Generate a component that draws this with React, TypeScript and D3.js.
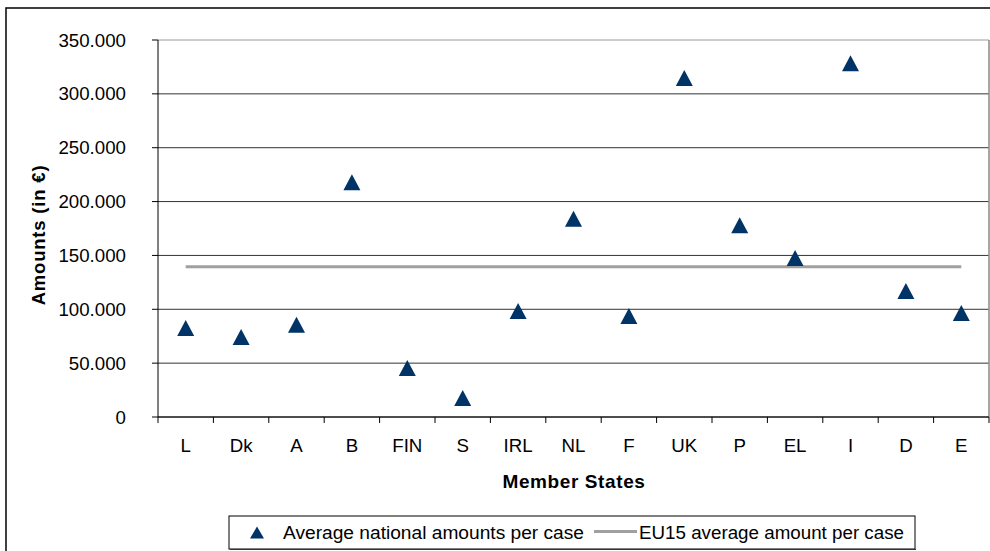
import React from "react";
import * as d3 from "d3";

const categories = ["L", "Dk", "A", "B", "FIN", "S", "IRL", "NL", "F", "UK", "P", "EL", "I", "D", "E"];
const nationalAmounts = [82600, 74300, 85700, 218000, 45500, 17600, 98400, 184000, 93800, 314800, 178000, 147600, 328400, 117000, 96600];
const eu15Average = 139500;
const yTicks = [0, 50000, 100000, 150000, 200000, 250000, 300000, 350000];
const seriesNames = ["Average national amounts per case", "EU15 average amount per case"];
const xTitle = "Member States";
const yTitle = "Amounts (in €)";

const W = 990;
const H = 551;
const plot = { left: 158, right: 989, top: 40, bottom: 417 };
const FONT = "'Liberation Sans', Arial, Helvetica, sans-serif";
const NAVY = "#003366";

const locale = d3.formatLocale({ decimal: ",", thousands: ".", grouping: [3], currency: ["", "€"] });
const fmt = locale.format(",");

function tri(cx: number, cy: number, w: number, h: number) {
  return `M${cx - w / 2},${cy + h / 2}L${cx},${cy - h / 2}L${cx + w / 2},${cy + h / 2}Z`;
}

export default function App() {
  const x = d3.scaleBand<string>().domain(categories).range([plot.left, plot.right]).padding(0);
  const y = d3.scaleLinear().domain([0, 350000]).range([plot.bottom, plot.top]);
  const cx = (c: string) => (x(c) as number) + x.bandwidth() / 2;
  const avgLine = d3.line<string>().x((c) => cx(c)).y(() => y(eu15Average));
  const boundaries = categories.map((c) => x(c) as number).concat([plot.right]);

  return (
    <svg width={W} height={H} style={{ position: "absolute", left: 0, top: 0, background: "#fff" }} fontFamily={FONT}>
      <rect x={0} y={0} width={W} height={H} fill="#fff" />
      {/* outer frame */}
      <rect x={6} y={8} width={1100} height={700} fill="none" stroke="#111" strokeWidth={1.6} />
      {/* gridlines */}
      {yTicks.map((t) => (
        <line key={"g" + t} x1={plot.left} x2={plot.right} y1={y(t)} y2={y(t)} stroke={t === 350000 ? "#9a9a9a" : "#333"} strokeWidth={1} />
      ))}
      {/* plot right border */}
      <line x1={plot.right} x2={plot.right} y1={plot.top} y2={plot.bottom} stroke="#888" strokeWidth={1.5} />
      {/* axes */}
      <line x1={plot.left} x2={plot.left} y1={plot.top} y2={plot.bottom} stroke="#000" strokeWidth={1} />
      <line x1={plot.left} x2={plot.right} y1={plot.bottom} y2={plot.bottom} stroke="#000" strokeWidth={1} />
      {yTicks.map((t) => (
        <g key={"yt" + t}>
          <line x1={plot.left - 6} x2={plot.left} y1={y(t)} y2={y(t)} stroke="#000" />
          <text x={126} y={y(t) + 6.5} textAnchor="end" fontSize={18.7} fill="#000">
            {fmt(t)}
          </text>
        </g>
      ))}
      {boundaries.map((b, i) => (
        <line key={"xt" + i} x1={b} x2={b} y1={plot.bottom} y2={plot.bottom + 6} stroke="#000" />
      ))}
      {categories.map((c) => (
        <text key={"xl" + c} x={cx(c)} y={452} textAnchor="middle" fontSize={18.7} fill="#000">
          {c}
        </text>
      ))}
      {/* titles */}
      <text x={574} y={487.5} textAnchor="middle" fontSize={19} fontWeight="bold" letterSpacing={0.6} fill="#000">
        {xTitle}
      </text>
      <text transform={`translate(45,235) rotate(-90)`} textAnchor="middle" fontSize={18.5} fontWeight="bold" letterSpacing={0.8} fill="#000">
        {yTitle}
      </text>
      {/* EU15 average line */}
      <path d={avgLine(categories) as string} fill="none" stroke="#a0a0a0" strokeWidth={3} />
      {/* markers */}
      {categories.map((c, i) => (
        <path key={"m" + c} d={tri(cx(c), y(nationalAmounts[i]), 17, 16)} fill={NAVY} />
      ))}
      {/* legend */}
      <rect x={229} y={516} width={686} height={33} fill="none" stroke="#000" strokeWidth={1} />
      <line x1={230} x2={916} y1={549.5} y2={549.5} stroke="#333" strokeWidth={1.2} />
      <path d={tri(257, 532.5, 14, 12)} fill={NAVY} />
      <text x={283} y={538.5} fontSize={18.7} fill="#000" textLength={301} lengthAdjust="spacingAndGlyphs">
        {seriesNames[0]}
      </text>
      <line x1={594} x2={637} y1={531.5} y2={531.5} stroke="#a0a0a0" strokeWidth={3} />
      <text x={639} y={538.5} fontSize={18.7} fill="#000" textLength={265} lengthAdjust="spacingAndGlyphs">
        {seriesNames[1]}
      </text>
    </svg>
  );
}
